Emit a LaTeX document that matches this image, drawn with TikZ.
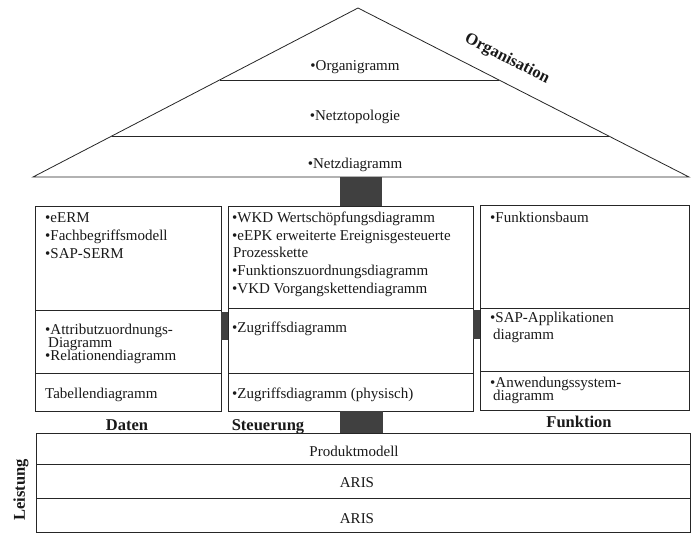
\documentclass[tikz,border=0pt]{standalone}
\usepackage{fontspec}
\setmainfont{Liberation Serif}
\usetikzlibrary{calc}
\begin{document}
\begin{tikzpicture}[x=1pt,y=-1pt,
  frame/.style={draw=black!85,line width=0.8pt},
  boxnode/.style={frame,anchor=north west,inner sep=0pt},
  pillar/.style={fill=black!75,draw=none},
  txt/.style={font=\fontsize{15}{18}\selectfont,inner sep=0pt,anchor=base west,text=black!90},
  ctxt/.style={font=\fontsize{15}{18}\selectfont,inner sep=0pt,anchor=base,text=black!90},
  lbl/.style={font=\fontsize{16.5}{20}\selectfont\bfseries,inner sep=0pt,anchor=base,text=black!90}]
\useasboundingbox[fill=white] (0,0) rectangle (700,544);

% roof
\coordinate (roofL) at (33,177);
\coordinate (apex) at (358,8);
\coordinate (roofR) at (689,177);
\draw[frame,line join=miter] (roofL) -- (apex) -- (roofR) -- cycle;
\draw[frame] ($(roofL)!0.574!(apex)$) -- ($(roofR)!0.574!(apex)$);
\draw[frame] ($(roofL)!0.2426!(apex)$) -- ($(roofR)!0.2426!(apex)$);
\node[ctxt] (r1) at (355,70) {•Organigramm};
\node[ctxt] (r2) at (355,120) {•Netztopologie};
\node[ctxt] (r3) at (355,168) {•Netzdiagramm};
\node[lbl,rotate=-26.8,anchor=center] (org) at (507,59) {Organisation};

% boxes
\node[boxnode,minimum width=186pt,minimum height=205pt] (daten) at (35,206) {};
\node[boxnode,minimum width=245pt,minimum height=205pt] (steuer) at (228,206) {};
\node[boxnode,minimum width=209pt,minimum height=205pt] (funk) at (480,205) {};
\draw[frame] (35,310) -- (221,310) (35,373) -- (221,373);
\draw[frame] (228,308) -- (473,308) (228,373) -- (473,373);
\draw[frame] (480,308) -- (689,308) (480,371) -- (689,371);

% pillars
\fill[pillar] (340,177.4) rectangle (382,205.6);
\fill[pillar] (221.4,312) rectangle (227.6,340);
\fill[pillar] (473.4,310) rectangle (479.6,339);
\fill[pillar] (340,411.4) rectangle (383,432.6);

% Daten texts
\node[txt] (d1) at (45,222) {•eERM};
\node[txt] (d2) at (45,240) {•Fachbegriffsmodell};
\node[txt] (d3) at (45,258) {•SAP-SERM};
\node[txt] (d4) at (45,334) {•Attributzuordnungs-};
\node[txt] (d5) at (48,347) {Diagramm};
\node[txt] (d6) at (45,360) {•Relationendiagramm};
\node[txt] (d7) at (45,398) {Tabellendiagramm};

% Steuerung texts
\node[txt] (s1) at (232,222) {•WKD Wertschöpfungsdiagramm};
\node[txt] (s2) at (232,240) {•eEPK erweiterte Ereignisgesteuerte};
\node[txt] (s3) at (233,257) {Prozesskette};
\node[txt] (s4) at (232,275) {•Funktionszuordnungsdiagramm};
\node[txt] (s5) at (232,293) {•VKD Vorgangskettendiagramm};
\node[txt] (s6) at (232,332) {•Zugriffsdiagramm};
\node[txt] (s7) at (232,398) {•Zugriffsdiagramm (physisch)};

% Funktion texts
\node[txt] (f1) at (490,222) {•Funktionsbaum};
\node[txt] (f2) at (490,322) {•SAP-Applikationen};
\node[txt] (f3) at (493,339) {diagramm};
\node[txt] (f4) at (490,387) {•Anwendungssystem-};
\node[txt] (f5) at (493,400) {diagramm};

% labels
\node[lbl] (lD) at (127,430) {Daten};
\node[lbl] (lS) at (268,430) {Steuerung};
\node[lbl] (lF) at (579,427) {Funktion};
\node[lbl,rotate=90,anchor=center] (lL) at (21,490) {Leistung};

% Leistung box
\node[boxnode,minimum width=654pt,minimum height=99pt] (leist) at (36,433) {};
\draw[frame] (36,464) -- (690,464) (36,498) -- (690,498);
\node[ctxt] (p1) at (354,456) {Produktmodell};
\node[ctxt] (p2) at (357,487) {ARIS};
\node[ctxt] (p3) at (357,523) {ARIS};
\end{tikzpicture}
\end{document}
